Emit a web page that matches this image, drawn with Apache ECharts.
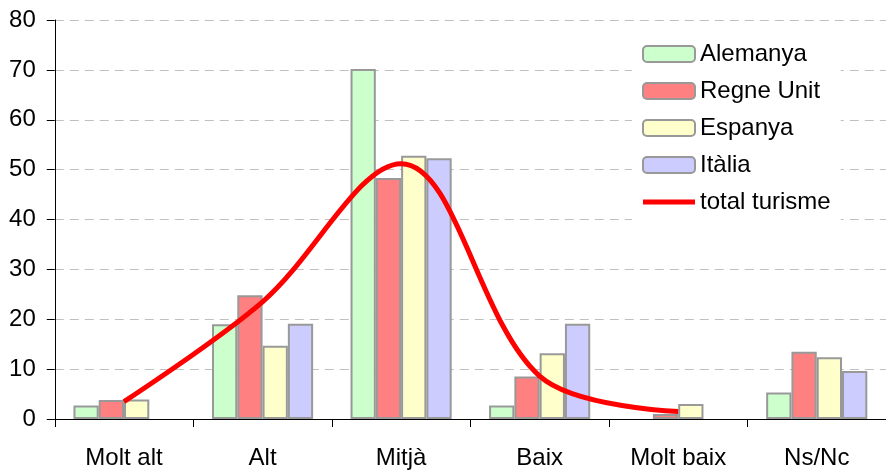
<!DOCTYPE html>
<html>
<head>
<meta charset="utf-8">
<script src="https://cdn.jsdelivr.net/npm/echarts@6/dist/echarts.min.js"></script>
<style>html,body{margin:0;padding:0;background:#fff}#c{width:886px;height:470px}</style>
</head>
<body>
<div id="c"></div>
<script>
const categories = ['Molt alt', 'Alt', 'Mitjà', 'Baix', 'Molt baix', 'Ns/Nc'];
const alemanya = [2.7, 19.0, 70.2, 2.7, null, 5.3];
const regneUnit = [3.8, 24.8, 48.3, 8.5, 1.0, 13.5];
const espanya = [3.9, 14.7, 52.8, 13.2, 3.0, 12.4];
const italia = [null, 19.1, 52.3, 19.1, null, 9.6];
const totalTurisme = [3.5, 23.5, 51.2, 8.6, 1.5, null];
const yTicks = [0, 10, 20, 30, 40, 50, 60, 70, 80];

const FONT = 'Liberation Sans, Arial, sans-serif';
const border = { borderColor: '#999999', borderWidth: 2 };
function barSeries(name, data, color) {
  return {
    name: name, type: 'bar', data: data,
    barGap: '0%', barCategoryGap: '27%',
    itemStyle: Object.assign({ color: color }, border)
  };
}
const chart = echarts.init(document.getElementById('c'), null, { renderer: 'canvas' });
chart.setOption({
  animation: false,
  backgroundColor: '#ffffff',
  textStyle: { fontFamily: FONT },
  grid: { left: 54.75, right: -10, top: 20, bottom: 50, containLabel: false },
  legend: {
    orient: 'vertical', left: 632, top: 30,
    padding: [12, 10, 12, 10], backgroundColor: '#ffffff',
    itemWidth: 52, itemHeight: 16, itemGap: 13,
    textStyle: { fontSize: 24, fontFamily: FONT, color: '#000' },
    data: [
      'Alemanya', 'Regne Unit', 'Espanya', 'Itàlia',
      { name: 'total turisme', icon: 'path://M0,0 L52,0 L52,5 L0,5 Z',
        itemStyle: { color: '#ff0000', borderWidth: 0 } }
    ]
  },
  xAxis: {
    type: 'category', data: categories,
    axisLine: { lineStyle: { color: '#000', width: 1 } },
    axisTick: { show: true, length: 8, lineStyle: { color: '#000' } },
    axisLabel: { fontSize: 24, fontFamily: FONT, color: '#000', margin: 27 },
    splitLine: { show: false }
  },
  yAxis: {
    type: 'value', min: yTicks[0], max: yTicks[yTicks.length - 1], interval: 10,
    axisLine: { show: true, lineStyle: { color: '#000', width: 1 } },
    axisTick: { show: true, length: 8, lineStyle: { color: '#000' } },
    axisLabel: { fontSize: 24, fontFamily: FONT, color: '#000', margin: 19 },
    splitLine: { show: true, lineStyle: { color: '#c0c0c0', type: [9, 6], width: 1 } }
  },
  series: [
    barSeries('Alemanya', alemanya, '#ccffcc'),
    barSeries('Regne Unit', regneUnit, '#ff8080'),
    barSeries('Espanya', espanya, '#ffffcc'),
    barSeries('Itàlia', italia, '#ccccff'),
    {
      name: 'total turisme', type: 'line', data: totalTurisme,
      smooth: 0.35, symbol: 'none', showSymbol: false,
      lineStyle: { color: '#ff0000', width: 5 },
      itemStyle: { color: '#ff0000' }, z: 5
    }
  ]
});
</script>
</body>
</html>
